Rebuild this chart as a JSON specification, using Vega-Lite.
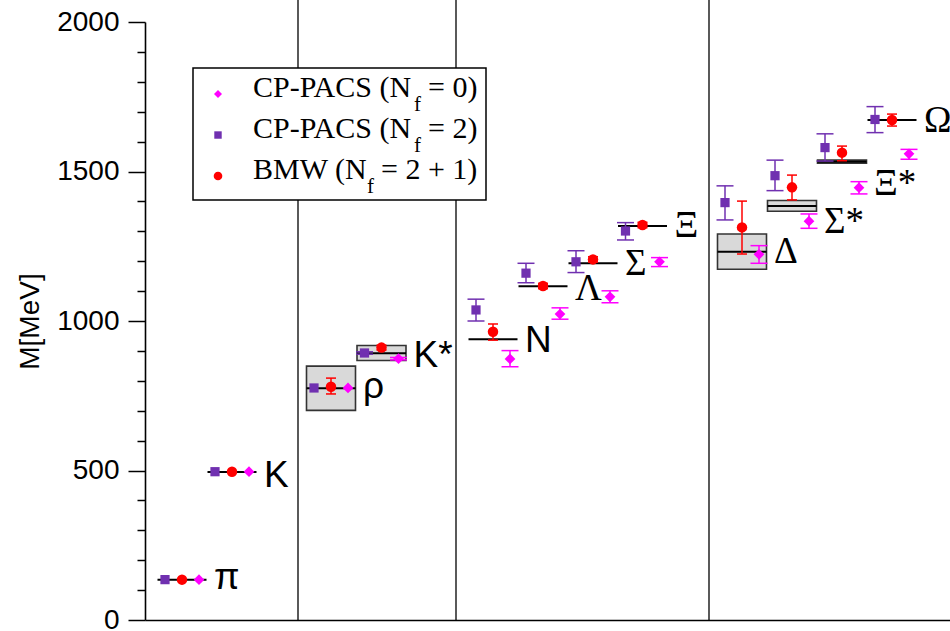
{
  "$schema": "https://vega.github.io/schema/vega-lite/v6.json",
  "width": 805,
  "height": 598,
  "autosize": {"type": "none"},
  "padding": {"left": 145, "top": 22, "right": 0, "bottom": 11},
  "background": "white",
  "config": {
    "view": {"stroke": null},
    "axis": {"domainColor": "black", "tickColor": "black", "labelColor": "black", "titleColor": "black", "labelFont": "Liberation Sans", "titleFont": "Liberation Sans", "grid": false}
  },
  "datasets": {
    "seps": [{"s": 2.32}, {"s": 5.48}, {"s": 10.54}],
    "exp": [
      {"h": "π", "s": 0, "m": 135, "blo": null, "bhi": null, "lb": 103},
      {"h": "K", "s": 1, "m": 495, "blo": null, "bhi": null, "lb": 446},
      {"h": "ρ", "s": 2.98, "m": 775, "blo": 701, "bhi": 849, "lb": 744},
      {"h": "K*", "s": 3.99, "m": 892, "blo": 868, "bhi": 918, "lb": 847},
      {"h": "N", "s": 6.22, "m": 939, "blo": null, "bhi": null, "lb": 896},
      {"h": "Λ", "s": 7.22, "m": 1116, "blo": null, "bhi": null, "lb": 1070},
      {"h": "Σ", "s": 8.22, "m": 1193, "blo": null, "bhi": null, "lb": 1154},
      {"h": "Ξ", "s": 9.21, "m": 1318, "blo": null, "bhi": null, "lb": 1280},
      {"h": "Δ", "s": 11.2, "m": 1232, "blo": 1173, "bhi": 1291, "lb": 1193},
      {"h": "Σ*", "s": 12.2, "m": 1385, "blo": 1367, "bhi": 1403, "lb": 1293},
      {"h": "Ξ*", "s": 13.2, "m": 1533, "blo": 1528, "bhi": 1538, "lb": 1423},
      {"h": "Ω", "s": 14.2, "m": 1672, "blo": null, "bhi": null, "lb": 1633}
    ],
    "pts": [
      {"h": "π", "s": 0, "c": "N2", "m": 135, "lo": null, "hi": null},
      {"h": "π", "s": 0, "c": "B", "m": 135, "lo": null, "hi": null},
      {"h": "π", "s": 0, "c": "N0", "m": 135, "lo": null, "hi": null},
      {"h": "K", "s": 1, "c": "N2", "m": 496, "lo": null, "hi": null},
      {"h": "K", "s": 1, "c": "B", "m": 496, "lo": null, "hi": null},
      {"h": "K", "s": 1, "c": "N0", "m": 496, "lo": null, "hi": null},
      {"h": "ρ", "s": 2.98, "c": "N2", "m": 776, "lo": null, "hi": null},
      {"h": "ρ", "s": 2.98, "c": "B", "m": 780, "lo": 756, "hi": 809},
      {"h": "ρ", "s": 2.98, "c": "N0", "m": 776, "lo": null, "hi": null},
      {"h": "K*", "s": 3.99, "c": "N2", "m": 893, "lo": 889, "hi": 897},
      {"h": "K*", "s": 3.99, "c": "B", "m": 911, "lo": 903, "hi": 919},
      {"h": "K*", "s": 3.99, "c": "N0", "m": 874, "lo": 870, "hi": 878},
      {"h": "N", "s": 6.22, "c": "N2", "m": 1037, "lo": 1000, "hi": 1073},
      {"h": "N", "s": 6.22, "c": "B", "m": 964, "lo": 936, "hi": 990},
      {"h": "N", "s": 6.22, "c": "N0", "m": 873, "lo": 847, "hi": 901},
      {"h": "Λ", "s": 7.22, "c": "N2", "m": 1160, "lo": 1128, "hi": 1193},
      {"h": "Λ", "s": 7.22, "c": "B", "m": 1117, "lo": 1108, "hi": 1126},
      {"h": "Λ", "s": 7.22, "c": "N0", "m": 1023, "lo": 1006, "hi": 1044},
      {"h": "Σ", "s": 8.22, "c": "N2", "m": 1198, "lo": 1162, "hi": 1235},
      {"h": "Σ", "s": 8.22, "c": "B", "m": 1206, "lo": 1197, "hi": 1215},
      {"h": "Σ", "s": 8.22, "c": "N0", "m": 1081, "lo": 1061, "hi": 1101},
      {"h": "Ξ", "s": 9.21, "c": "N2", "m": 1301, "lo": 1271, "hi": 1329},
      {"h": "Ξ", "s": 9.21, "c": "B", "m": 1321, "lo": 1312, "hi": 1330},
      {"h": "Ξ", "s": 9.21, "c": "N0", "m": 1198, "lo": 1182, "hi": 1212},
      {"h": "Δ", "s": 11.2, "c": "N2", "m": 1396, "lo": 1338, "hi": 1452},
      {"h": "Δ", "s": 11.2, "c": "B", "m": 1313, "lo": 1224, "hi": 1401},
      {"h": "Δ", "s": 11.2, "c": "N0", "m": 1223, "lo": 1193, "hi": 1252},
      {"h": "Σ*", "s": 12.2, "c": "N2", "m": 1486, "lo": 1436, "hi": 1538},
      {"h": "Σ*", "s": 12.2, "c": "B", "m": 1447, "lo": 1405, "hi": 1488},
      {"h": "Σ*", "s": 12.2, "c": "N0", "m": 1334, "lo": 1310, "hi": 1358},
      {"h": "Ξ*", "s": 13.2, "c": "N2", "m": 1580, "lo": 1535, "hi": 1626},
      {"h": "Ξ*", "s": 13.2, "c": "B", "m": 1563, "lo": 1536, "hi": 1585},
      {"h": "Ξ*", "s": 13.2, "c": "N0", "m": 1446, "lo": 1425, "hi": 1466},
      {"h": "Ω", "s": 14.2, "c": "N2", "m": 1674, "lo": 1630, "hi": 1717},
      {"h": "Ω", "s": 14.2, "c": "B", "m": 1672, "lo": 1652, "hi": 1692},
      {"h": "Ω", "s": 14.2, "c": "N0", "m": 1559, "lo": 1541, "hi": 1574}
    ],
    "leg": [
      {"c": "N0", "mx": 0.72, "my": 1759, "tx": 1.42, "ty": 1748, "pre": "CP-PACS (N", "sub": "f", "subx": 4.64, "post": "= 0)"},
      {"c": "N2", "mx": 0.72, "my": 1622, "tx": 1.42, "ty": 1611, "pre": "CP-PACS (N", "sub": "f", "subx": 4.64, "post": "= 2)"},
      {"c": "B", "mx": 0.72, "my": 1485, "tx": 1.42, "ty": 1474, "pre": "BMW (N", "sub": "f", "subx": 3.7, "post": "= 2 + 1)"}
    ],
    "legbox": [{"x1": 0.22, "x2": 6.08, "y1": 1405, "y2": 1846}]
  },
  "resolve": {"axis": {"x": "independent", "y": "independent"}},
  "layer": [
    {
      "data": {"name": "seps"},
      "mark": {"type": "rule", "color": "black", "strokeWidth": 1.3},
      "encoding": {
        "x": {"field": "s", "type": "quantitative", "axis": null},
        "y": {"datum": 0, "type": "quantitative", "axis": null},
        "y2": {"datum": 2075}
      }
    },
    {
      "data": {"name": "exp"},
      "transform": [{"filter": "isValid(datum.blo)"}],
      "mark": {"type": "rect", "fill": "#d9d9d9", "stroke": "#333333", "strokeWidth": 1.6, "xOffset": -24.5, "x2Offset": 24.5},
      "encoding": {
        "x": {"field": "s", "type": "quantitative", "axis": null},
        "x2": {"field": "s"},
        "y": {"field": "blo", "type": "quantitative", "axis": {"orient": "left", "values": [100, 200, 300, 400, 600, 700, 800, 900, 1100, 1200, 1300, 1400, 1600, 1700, 1800, 1900], "tickSize": 8, "tickWidth": 1.5, "labels": false, "domain": false, "title": null}},
        "y2": {"field": "bhi"}
      }
    },
    {
      "data": {"name": "exp"},
      "mark": {"type": "rule", "color": "black", "strokeWidth": 2, "xOffset": -24.5, "x2Offset": 24.5},
      "encoding": {
        "x": {"field": "s", "type": "quantitative", "scale": {"domain": [-0.74, 15.36], "nice": false, "zero": false}, "axis": {"domain": true, "domainWidth": 1.5, "ticks": false, "labels": false, "title": null, "grid": false}},
        "x2": {"field": "s"},
        "y": {"field": "m", "type": "quantitative", "scale": {"domain": [0, 2000], "nice": false, "zero": true}, "axis": {"orient": "left", "values": [0, 500, 1000, 1500, 2000], "format": "d", "tickSize": 17, "tickWidth": 1.5, "domainWidth": 1.6, "labelFontSize": 28, "labelPadding": 9, "labelOverlap": false, "labelFlush": false, "title": "M[MeV]", "titleFontSize": 28, "titleFontWeight": "normal", "titlePadding": 12}}
      }
    },
    {
      "data": {"name": "pts"},
      "transform": [{"filter": "datum.c === 'N2' && isValid(datum.lo)"}],
      "layer": [
        {"mark": {"type": "rule", "color": "#7030b0", "strokeWidth": 1.5, "xOffset": -17},
         "encoding": {"x": {"field": "s", "type": "quantitative", "axis": null}, "y": {"field": "lo", "type": "quantitative", "axis": null}, "y2": {"field": "hi"}}},
        {"mark": {"type": "tick", "orient": "horizontal", "size": 17, "thickness": 1.5, "color": "#7030b0", "opacity": 1, "xOffset": -17},
         "encoding": {"x": {"field": "s", "type": "quantitative", "axis": null}, "y": {"field": "lo", "type": "quantitative", "axis": null}}},
        {"mark": {"type": "tick", "orient": "horizontal", "size": 17, "thickness": 1.5, "color": "#7030b0", "opacity": 1, "xOffset": -17},
         "encoding": {"x": {"field": "s", "type": "quantitative", "axis": null}, "y": {"field": "hi", "type": "quantitative", "axis": null}}}
      ]
    },
    {
      "data": {"name": "pts"},
      "transform": [{"filter": "datum.c === 'N0' && isValid(datum.lo)"}],
      "layer": [
        {"mark": {"type": "rule", "color": "#ff00ff", "strokeWidth": 1.5, "xOffset": 17},
         "encoding": {"x": {"field": "s", "type": "quantitative", "axis": null}, "y": {"field": "lo", "type": "quantitative", "axis": null}, "y2": {"field": "hi"}}},
        {"mark": {"type": "tick", "orient": "horizontal", "size": 17, "thickness": 1.5, "color": "#ff00ff", "opacity": 1, "xOffset": 17},
         "encoding": {"x": {"field": "s", "type": "quantitative", "axis": null}, "y": {"field": "lo", "type": "quantitative", "axis": null}}},
        {"mark": {"type": "tick", "orient": "horizontal", "size": 17, "thickness": 1.5, "color": "#ff00ff", "opacity": 1, "xOffset": 17},
         "encoding": {"x": {"field": "s", "type": "quantitative", "axis": null}, "y": {"field": "hi", "type": "quantitative", "axis": null}}}
      ]
    },
    {
      "data": {"name": "pts"},
      "transform": [{"filter": "datum.c === 'B' && isValid(datum.lo)"}],
      "layer": [
        {"mark": {"type": "rule", "color": "#ff0000", "strokeWidth": 1.5},
         "encoding": {"x": {"field": "s", "type": "quantitative", "axis": null}, "y": {"field": "lo", "type": "quantitative", "axis": null}, "y2": {"field": "hi"}}},
        {"mark": {"type": "tick", "orient": "horizontal", "size": 10, "thickness": 1.5, "color": "#ff0000", "opacity": 1},
         "encoding": {"x": {"field": "s", "type": "quantitative", "axis": null}, "y": {"field": "lo", "type": "quantitative", "axis": null}}},
        {"mark": {"type": "tick", "orient": "horizontal", "size": 10, "thickness": 1.5, "color": "#ff0000", "opacity": 1},
         "encoding": {"x": {"field": "s", "type": "quantitative", "axis": null}, "y": {"field": "hi", "type": "quantitative", "axis": null}}}
      ]
    },
    {
      "data": {"name": "pts"},
      "transform": [{"filter": "datum.c === 'N2'"}],
      "mark": {"type": "point", "shape": "square", "filled": true, "size": 85, "color": "#7030b0", "opacity": 1, "xOffset": -17},
      "encoding": {"x": {"field": "s", "type": "quantitative", "axis": null}, "y": {"field": "m", "type": "quantitative", "axis": null}}
    },
    {
      "data": {"name": "pts"},
      "transform": [{"filter": "datum.c === 'B'"}],
      "mark": {"type": "point", "shape": "circle", "filled": true, "size": 110, "color": "#ff0000", "opacity": 1},
      "encoding": {"x": {"field": "s", "type": "quantitative", "axis": null}, "y": {"field": "m", "type": "quantitative", "axis": null}}
    },
    {
      "data": {"name": "pts"},
      "transform": [{"filter": "datum.c === 'N0'"}],
      "mark": {"type": "point", "shape": "diamond", "filled": true, "size": 115, "color": "#ff00ff", "opacity": 1, "xOffset": 17},
      "encoding": {"x": {"field": "s", "type": "quantitative", "axis": null}, "y": {"field": "m", "type": "quantitative", "axis": null}}
    },
    {
      "data": {"name": "exp"},
      "transform": [{"filter": {"field": "h", "oneOf": ["π", "K", "ρ", "K*", "N"]}}],
      "mark": {"type": "text", "align": "left", "baseline": "alphabetic", "font": "Liberation Sans", "fontSize": 37, "dx": 32, "color": "black"},
      "encoding": {"x": {"field": "s", "type": "quantitative", "axis": null}, "y": {"field": "lb", "type": "quantitative", "axis": null}, "text": {"field": "h"}}
    },
    {
      "data": {"name": "exp"},
      "transform": [{"filter": {"not": {"field": "h", "oneOf": ["π", "K", "ρ", "K*", "N"]}}}],
      "mark": {"type": "text", "align": "left", "baseline": "alphabetic", "font": "Liberation Serif", "fontSize": 37, "dx": 32, "color": "black"},
      "encoding": {"x": {"field": "s", "type": "quantitative", "axis": null}, "y": {"field": "lb", "type": "quantitative", "axis": null}, "text": {"field": "h"}}
    },
    {
      "data": {"name": "legbox"},
      "mark": {"type": "rect", "fill": "white", "stroke": "black", "strokeWidth": 1.5},
      "encoding": {"x": {"field": "x1", "type": "quantitative", "axis": null}, "x2": {"field": "x2"}, "y": {"field": "y1", "type": "quantitative", "axis": null}, "y2": {"field": "y2"}}
    },
    {
      "data": {"name": "leg"},
      "transform": [{"filter": "datum.c === 'N0'"}],
      "mark": {"type": "point", "shape": "diamond", "filled": true, "size": 64, "color": "#ff00ff", "opacity": 1},
      "encoding": {"x": {"field": "mx", "type": "quantitative", "axis": null}, "y": {"field": "my", "type": "quantitative", "axis": null}}
    },
    {
      "data": {"name": "leg"},
      "transform": [{"filter": "datum.c === 'N2'"}],
      "mark": {"type": "point", "shape": "square", "filled": true, "size": 55, "color": "#7030b0", "opacity": 1},
      "encoding": {"x": {"field": "mx", "type": "quantitative", "axis": null}, "y": {"field": "my", "type": "quantitative", "axis": null}}
    },
    {
      "data": {"name": "leg"},
      "transform": [{"filter": "datum.c === 'B'"}],
      "mark": {"type": "point", "shape": "circle", "filled": true, "size": 75, "color": "#ff0000", "opacity": 1},
      "encoding": {"x": {"field": "mx", "type": "quantitative", "axis": null}, "y": {"field": "my", "type": "quantitative", "axis": null}}
    },
    {
      "data": {"name": "leg"},
      "mark": {"type": "text", "align": "left", "baseline": "alphabetic", "font": "Liberation Serif", "fontSize": 30, "color": "black"},
      "encoding": {"x": {"field": "tx", "type": "quantitative", "axis": null}, "y": {"field": "ty", "type": "quantitative", "axis": null}, "text": {"field": "pre"}}
    },
    {
      "data": {"name": "leg"},
      "mark": {"type": "text", "align": "left", "baseline": "alphabetic", "font": "Liberation Serif", "fontSize": 21, "dy": 14, "color": "black"},
      "encoding": {"x": {"field": "subx", "type": "quantitative", "axis": null}, "y": {"field": "ty", "type": "quantitative", "axis": null}, "text": {"field": "sub"}}
    },
    {
      "data": {"name": "leg"},
      "mark": {"type": "text", "align": "left", "baseline": "alphabetic", "font": "Liberation Serif", "fontSize": 30, "dx": 14, "color": "black"},
      "encoding": {"x": {"field": "subx", "type": "quantitative", "axis": null}, "y": {"field": "ty", "type": "quantitative", "axis": null}, "text": {"field": "post"}}
    }
  ]
}
